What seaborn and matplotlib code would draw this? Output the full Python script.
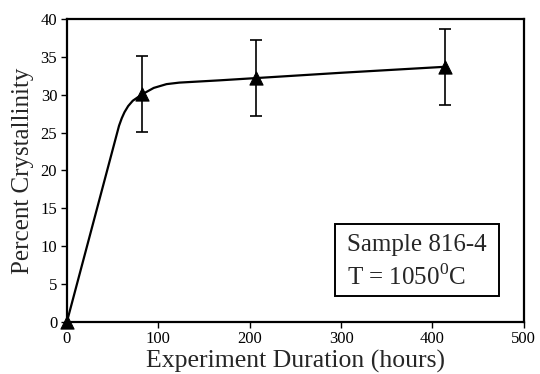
import matplotlib
matplotlib.use("Agg")
import matplotlib.pyplot as plt
import seaborn as sns
import pandas as pd
from matplotlib.patches import Rectangle

# -----------------------------------
# Data
# -----------------------------------
point_hours = [0, 82, 207, 414]
point_pct = [0, 30.1, 32.2, 33.7]
point_err = [0, 5.0, 5.0, 5.0]

# smooth fitted curve, sampled along the drawn line
curve_hours = [0, 57, 60, 63, 67, 72, 78, 83, 95, 109, 123, 167, 207, 300, 415]
curve_pct = [0, 25.9, 26.9, 27.7, 28.5, 29.2, 29.7, 30.1, 30.9, 31.4, 31.6,
             31.9, 32.2, 32.9, 33.7]

x_ticks = [0, 100, 200, 300, 400, 500]
y_ticks = [0, 5, 10, 15, 20, 25, 30, 35, 40]

points = pd.DataFrame({"hours": point_hours, "pct": point_pct, "err": point_err})
curve = pd.DataFrame({"hours": curve_hours, "pct": curve_pct})

# -----------------------------------
# Style
# -----------------------------------
sns.set_style("ticks")
plt.rcParams["font.family"] = ["Liberation Serif", "DejaVu Serif"]
plt.rcParams["mathtext.fontset"] = "custom"
plt.rcParams["mathtext.rm"] = "Liberation Serif"

fig = plt.figure(figsize=(5.4, 3.74), dpi=100)
ax = fig.add_axes([0.124, 0.140, 0.846, 0.809])

sns.lineplot(data=curve, x="hours", y="pct", ax=ax, color="black",
             linewidth=1.6, sort=False, estimator=None)

ax.errorbar(points["hours"][1:], points["pct"][1:], yerr=points["err"][1:],
            fmt="none", ecolor="black", elinewidth=1.2, capsize=4.5,
            capthick=1.2, zorder=3)

sns.scatterplot(data=points, x="hours", y="pct", ax=ax, marker="^",
                color="black", s=90, edgecolor="black", zorder=4,
                clip_on=False)

ax.set_xlim(0, 500)
ax.set_ylim(0, 40)
ax.set_xticks(x_ticks)
ax.set_yticks(y_ticks)
ax.tick_params(axis="both", labelsize=12, length=4, width=1, direction="out",
               colors="black", pad=3)

for side in ["left", "right", "top", "bottom"]:
    ax.spines[side].set_visible(True)
    ax.spines[side].set_linewidth(1.6)
    ax.spines[side].set_color("black")

ax.set_xlabel("Experiment Duration (hours)", fontsize=18.5, labelpad=2)
ax.set_ylabel("Percent Crystallinity", fontsize=18, labelpad=5)

# -----------------------------------
# Sample info box
# -----------------------------------
ax.add_patch(Rectangle((0.586, 0.085), 0.359, 0.238, transform=ax.transAxes,
                       fill=False, edgecolor="black", linewidth=1.4))
ax.text(0.613, 0.253, "Sample 816-4", transform=ax.transAxes,
        fontsize=18, va="center", ha="left")
ax.text(0.613, 0.148, r"T = 1050$^\mathrm{0}$C", transform=ax.transAxes,
        fontsize=18, va="center", ha="left")

fig.savefig("out.png", dpi=100)
